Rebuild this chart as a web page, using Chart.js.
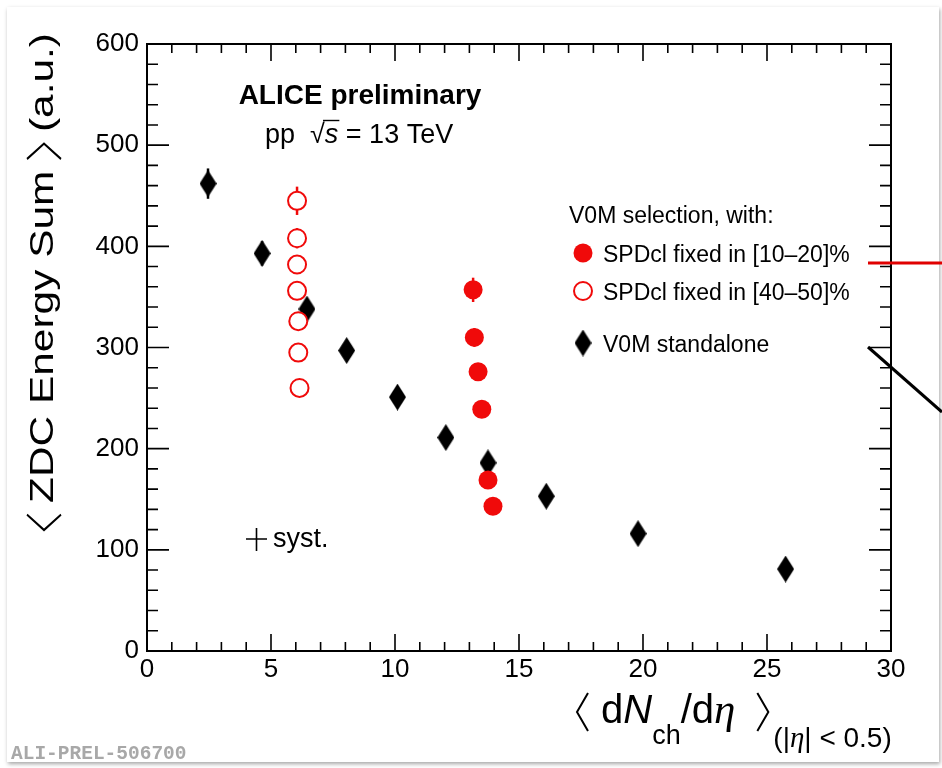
<!DOCTYPE html>
<html>
<head>
<meta charset="utf-8">
<script src="https://cdn.jsdelivr.net/npm/chart.js@4.4.0/dist/chart.umd.min.js"></script>
<style>
html, body { margin: 0; padding: 0; background: #fff; }
#card { position: absolute; left: 7px; top: 7px; width: 932px; height: 755px; background: #fff; box-shadow: 1px 2px 4px rgba(0,0,0,0.35); }
#wrap { position: absolute; left: 0; top: 0; width: 942px; height: 768px; }
</style>
</head>
<body>
<div id="card"></div>
<div id="wrap"><canvas id="myChart" width="942" height="768"></canvas></div>
<script>
// V0M standalone (black diamonds)
const v0mX = [2.46, 4.64, 6.45, 8.05, 10.1, 12.05, 13.75, 16.1, 19.8, 25.75];
const v0mY = [462, 393, 338, 297, 251, 211, 186, 153, 116, 81];
const v0mErr = [15, 12, 8, 4, 4, 3, 3, 3, 3, 3];

// SPDcl fixed in [10-20]% (red full circles)
const spdLowX = [13.15, 13.2, 13.35, 13.5, 13.75, 13.95];
const spdLowY = [357, 310, 276, 239, 169, 143];
const spdLowErr = [12, 9, 4, 3, 3, 3];

// SPDcl fixed in [40-50]% (red open circles)
const spdHighX = [6.05, 6.05, 6.05, 6.05, 6.1, 6.1, 6.15];
const spdHighY = [445, 408, 382, 356, 326, 295, 260];
const spdHighErr = [14, 10, 9, 9, 8, 6, 4];

const xTicks = [0, 5, 10, 15, 20, 25, 30];
const yTicks = [0, 100, 200, 300, 400, 500, 600];

const RED = 'rgb(240,10,10)';
const FONT = '"Liberation Sans", Arial, Helvetica, sans-serif';

const toPoints = (xs, ys) => xs.map((x, i) => ({ x: x, y: ys[i] }));

const makeDiamond = (w, h, color) => {
    const c = document.createElement('canvas');
    c.width = w;
    c.height = h;
    const g = c.getContext('2d');
    g.fillStyle = color;
    g.beginPath();
    g.moveTo(w / 2, 0);
    g.lineTo(w, h / 2);
    g.lineTo(w / 2, h);
    g.lineTo(0, h / 2);
    g.closePath();
    g.fill();
    return c;
};
const diamond = makeDiamond(17, 27, '#000');

const errors = [spdHighErr, spdLowErr, v0mErr];

// thin tall angle bracket like ROOT's #LT / #GT
const bracket = (ctx, x, base, open, w, up, down) => {
    ctx.beginPath();
    if (open) {
        ctx.moveTo(x + w, base - up);
        ctx.lineTo(x, base + (down - up) / 2);
        ctx.lineTo(x + w, base + down);
    } else {
        ctx.moveTo(x, base - up);
        ctx.lineTo(x + w, base + (down - up) / 2);
        ctx.lineTo(x, base + down);
    }
    ctx.stroke();
};

const rootFrame = {
    id: 'rootFrame',
    beforeDatasetsDraw(chart) {
        const ctx = chart.ctx;
        const xs = chart.scales.x, ys = chart.scales.y;
        ctx.save();
        chart.data.datasets.forEach((ds, di) => {
            ctx.strokeStyle = ds.borderColor;
            ctx.lineWidth = 2.5;
            ds.data.forEach((p, i) => {
                const e = errors[di][i];
                const px = xs.getPixelForValue(p.x);
                ctx.beginPath();
                ctx.moveTo(px, ys.getPixelForValue(p.y - e));
                ctx.lineTo(px, ys.getPixelForValue(p.y + e));
                ctx.stroke();
            });
        });
        ctx.restore();
    },
    afterDatasetsDraw(chart) {
        const ctx = chart.ctx;
        const a = chart.chartArea;
        const xs = chart.scales.x, ys = chart.scales.y;
        ctx.save();

        // frame
        ctx.strokeStyle = '#000';
        ctx.lineWidth = 2;
        ctx.strokeRect(a.left, a.top, a.right - a.left, a.bottom - a.top);

        // inward ticks, all four sides
        ctx.lineWidth = 1.6;
        ctx.beginPath();
        for (let v = 1; v < 30; v++) {
            const px = xs.getPixelForValue(v);
            const len = v % 5 === 0 ? 17 : 9;
            ctx.moveTo(px, a.bottom); ctx.lineTo(px, a.bottom - len);
            ctx.moveTo(px, a.top); ctx.lineTo(px, a.top + len);
        }
        for (let v = 20; v < 600; v += 20) {
            const py = ys.getPixelForValue(v);
            const len = v % 100 === 0 ? 22 : 11;
            ctx.moveTo(a.left, py); ctx.lineTo(a.left + len, py);
            ctx.moveTo(a.right, py); ctx.lineTo(a.right - len, py);
        }
        ctx.stroke();

        ctx.fillStyle = '#000';
        ctx.textBaseline = 'alphabetic';
        ctx.textAlign = 'left';

        // y title, rotated and stretched along the text
        ctx.font = '33px ' + FONT;
        const t1 = 'ZDC Energy Sum', t2 = '(a.u.)';
        const bw = 12, gap = 9;
        const w1 = ctx.measureText(t1).width, w2 = ctx.measureText(t2).width;
        const total = bw + gap + w1 + gap + bw + gap + w2;
        ctx.save();
        ctx.translate(53, 530);
        ctx.rotate(-Math.PI / 2);
        ctx.scale(497 / total, 1);
        ctx.lineWidth = 1.8;
        let yx = 0;
        bracket(ctx, yx, 0, true, bw, 26, 8);
        yx += bw + gap;
        ctx.fillText(t1, yx, 0);
        yx += w1 + gap;
        bracket(ctx, yx, 0, false, bw, 26, 8);
        yx += bw + gap;
        ctx.fillText(t2, yx, 0);
        ctx.restore();

        // x title with subscripts
        ctx.lineWidth = 2;
        bracket(ctx, 577, 723, true, 11, 30, 8);
        let x = 601;
        const put = (txt, font, dy) => {
            ctx.font = font;
            ctx.fillText(txt, x, 723 + dy);
            x += ctx.measureText(txt).width;
        };
        put('d', '40px ' + FONT, 0);
        put('N', 'italic 40px ' + FONT, 0);
        put('ch', '27px ' + FONT, 21);
        put('/d', '40px ' + FONT, 0);
        put('\u03B7', 'italic 43px "Liberation Serif", serif', 0);
        x += 22;
        bracket(ctx, x, 723, false, 11, 30, 8);
        x += 16;
        put('(|', '28px ' + FONT, 24);
        put('\u03B7', 'italic 29px "Liberation Serif", serif', 24);
        put('| < 0.5)', '28px ' + FONT, 24);

        // header
        ctx.textAlign = 'center';
        ctx.font = 'bold 28px ' + FONT;
        ctx.fillText('ALICE preliminary', 360, 104);
        x = 265;
        ctx.textAlign = 'left';
        const put2 = (txt, font) => {
            ctx.font = font;
            ctx.fillText(txt, x, 143);
            x += ctx.measureText(txt).width;
        };
        put2('pp  ', '27px ' + FONT);
        const sq = x;
        put2('\u221A', '27px ' + FONT);
        put2('s', 'italic 27px ' + FONT);
        ctx.lineWidth = 1.4;
        ctx.beginPath();
        ctx.moveTo(sq + 13, 120.5); ctx.lineTo(x + 1, 120.5);
        ctx.stroke();
        put2(' = 13 TeV', '27px ' + FONT);

        // syst. marker
        ctx.lineWidth = 1.6;
        ctx.beginPath();
        ctx.moveTo(246, 539); ctx.lineTo(267, 539);
        ctx.moveTo(256.5, 528); ctx.lineTo(256.5, 551);
        ctx.stroke();
        ctx.font = '27px ' + FONT;
        ctx.fillText('syst.', 273, 547);

        // legend
        ctx.font = '23px ' + FONT;
        ctx.fillText('V0M selection, with:', 569, 223);
        const sets = chart.data.datasets;
        const rows = [
            { ds: sets[1], y: 253 },
            { ds: sets[0], y: 291 },
            { ds: sets[2], y: 343 }
        ];
        rows.forEach(r => {
            const ds = r.ds;
            if (ds.pointStyle === 'circle') {
                ctx.beginPath();
                ctx.arc(583, r.y, ds.pointRadius, 0, Math.PI * 2);
                ctx.fillStyle = ds.backgroundColor;
                ctx.fill();
                ctx.lineWidth = ds.borderWidth;
                ctx.strokeStyle = ds.borderColor;
                if (ds.borderWidth) ctx.stroke();
            } else {
                ctx.drawImage(ds.pointStyle, 583 - diamond.width / 2, r.y - diamond.height / 2);
            }
            ctx.fillStyle = '#000';
            ctx.fillText(ds.label, 603, r.y + 9);
        });

        // watermark
        ctx.font = 'bold 19.5px "Liberation Mono", "Courier New", monospace';
        ctx.fillStyle = '#a8a8a8';
        ctx.fillText('ALI-PREL-506700', 11, 759);

        // slide arrows leaking in at the right edge
        ctx.lineWidth = 3;
        ctx.strokeStyle = '#e00000';
        ctx.beginPath();
        ctx.moveTo(868, 263); ctx.lineTo(942, 263);
        ctx.stroke();
        ctx.strokeStyle = '#000';
        ctx.beginPath();
        ctx.moveTo(868, 347); ctx.lineTo(942, 412);
        ctx.stroke();

        ctx.restore();
    }
};

const ctx = document.getElementById('myChart');

new Chart(ctx, {
    type: 'scatter',
    data: {
        datasets: [{
            label: 'SPDcl fixed in [40\u201350]%',
            data: toPoints(spdHighX, spdHighY),
            pointStyle: 'circle',
            pointRadius: 9,
            borderWidth: 2,
            borderColor: RED,
            backgroundColor: '#fff'
        }, {
            label: 'SPDcl fixed in [10\u201320]%',
            data: toPoints(spdLowX, spdLowY),
            pointStyle: 'circle',
            pointRadius: 9.5,
            borderWidth: 0,
            borderColor: RED,
            backgroundColor: RED
        }, {
            label: 'V0M standalone',
            data: toPoints(v0mX, v0mY),
            pointStyle: diamond,
            borderColor: '#000',
            backgroundColor: '#000'
        }]
    },
    options: {
        responsive: false,
        animation: false,
        devicePixelRatio: 1,
        events: [],
        layout: { padding: { top: 44, right: 51, left: 0, bottom: 0 } },
        plugins: {
            legend: { display: false },
            tooltip: { enabled: false }
        },
        scales: {
            x: {
                type: 'linear',
                min: 0,
                max: 30,
                afterFit: s => { s.height = 117; },
                afterBuildTicks: s => { s.ticks = xTicks.map(v => ({ value: v })); },
                grid: { display: false, drawTicks: false },
                border: { display: false },
                ticks: { color: '#000', padding: 3, font: { size: 26, family: FONT } }
            },
            y: {
                type: 'linear',
                min: 0,
                max: 600,
                afterFit: s => { s.width = 147; },
                afterBuildTicks: s => { s.ticks = yTicks.map(v => ({ value: v })); },
                grid: { display: false, drawTicks: false },
                border: { display: false },
                ticks: { color: '#000', padding: 8, font: { size: 26, family: FONT } }
            }
        }
    },
    plugins: [rootFrame]
});
</script>
</body>
</html>
